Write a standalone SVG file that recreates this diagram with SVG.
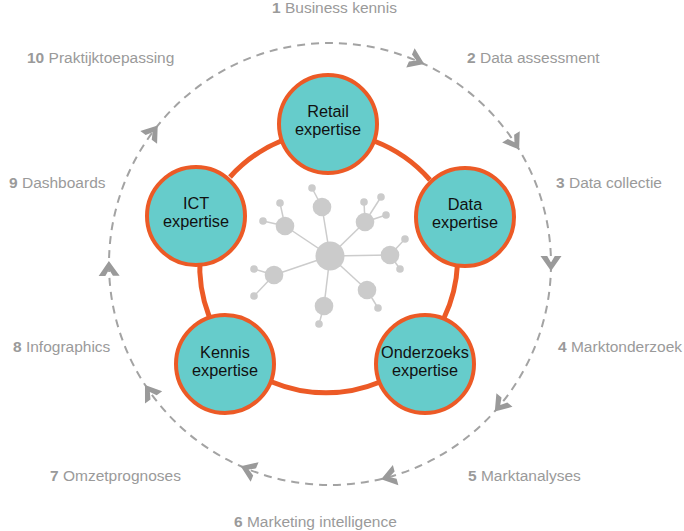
<svg xmlns="http://www.w3.org/2000/svg" width="684" height="531" viewBox="0 0 684 531">
<style>
.lbl{font-family:"Liberation Sans",Arial,sans-serif;font-size:15.5px;fill:#9a9a9a}
.num{font-weight:bold}
.nt{font-family:"Liberation Sans",Arial,sans-serif;font-size:16.3px;fill:#111;text-anchor:middle}
.node{fill:#66cccb;stroke:#ec5a26;stroke-width:4}
.link{fill:none;stroke:#ec5a26;stroke-width:5}
.cyc{fill:none;stroke:#a3a3a3;stroke-width:2;stroke-dasharray:8 6}
.chev{fill:#9a9a9a}
.net line{stroke:#cccccc;stroke-width:1.5}
.net circle{fill:#cbcbcb}
</style>
<defs>
<polygon id="chev" points="-8,-10.5 7,0 -8,10.5 -8,3.8 -1.5,0 -8,-3.8"/>
</defs>
<rect width="684" height="531" fill="#fff"/>
<g id="cycle">
<circle class="cyc" cx="330" cy="264" r="221"/>
<g class="chev">
<use href="#chev" transform="translate(417.8,61.1) rotate(23.4)"/>
<use href="#chev" transform="translate(515.3,143.6) rotate(57)"/>
<use href="#chev" transform="translate(551,264) rotate(90)"/>
<use href="#chev" transform="translate(499.3,406.1) rotate(130)"/>
<use href="#chev" transform="translate(387.9,477.3) rotate(164.8)"/>
<use href="#chev" transform="translate(247.2,468.9) rotate(202)"/>
<use href="#chev" transform="translate(149,390.8) rotate(235)"/>
<use href="#chev" transform="translate(109,267.9) rotate(269)"/>
<use href="#chev" transform="translate(153.5,131) rotate(-53)"/>
</g>
</g>
<g id="labels" class="lbl">
<text x="272" y="13"><tspan class="num">1</tspan> Business kennis</text>
<text x="467" y="63"><tspan class="num">2</tspan> Data assessment</text>
<text x="556" y="188"><tspan class="num">3</tspan> Data collectie</text>
<text x="558" y="352"><tspan class="num">4</tspan> Marktonderzoek</text>
<text x="468" y="481"><tspan class="num">5</tspan> Marktanalyses</text>
<text x="234" y="527"><tspan class="num">6</tspan> Marketing intelligence</text>
<text x="50" y="481"><tspan class="num">7</tspan> Omzetprognoses</text>
<text x="13" y="352"><tspan class="num">8</tspan> Infographics</text>
<text x="9" y="188"><tspan class="num">9</tspan> Dashboards</text>
<text x="27" y="63"><tspan class="num">10</tspan> Praktijktoepassing</text>
</g>
<g id="network" class="net">
<line x1="330" y1="256" x2="322" y2="207"/><line x1="322" y1="207" x2="312" y2="188"/>
<line x1="330" y1="256" x2="285" y2="226"/><line x1="285" y1="226" x2="280" y2="203"/><line x1="285" y1="226" x2="263" y2="221"/>
<line x1="330" y1="256" x2="365" y2="222"/><line x1="365" y1="222" x2="364" y2="202"/><line x1="365" y1="222" x2="381" y2="197"/><line x1="365" y1="222" x2="386" y2="215"/>
<line x1="330" y1="256" x2="390" y2="255"/><line x1="390" y1="255" x2="405" y2="239"/><line x1="390" y1="255" x2="400" y2="269"/>
<line x1="330" y1="256" x2="274" y2="275"/><line x1="274" y1="275" x2="254" y2="269"/><line x1="274" y1="275" x2="254" y2="296"/>
<line x1="330" y1="256" x2="367" y2="290"/><line x1="367" y1="290" x2="378" y2="308"/>
<line x1="330" y1="256" x2="324" y2="306"/><line x1="324" y1="306" x2="319" y2="324"/>
<circle cx="330" cy="256" r="14.5"/>
<circle cx="322" cy="207" r="9.3"/><circle cx="312" cy="188" r="3.8"/>
<circle cx="285" cy="226" r="9.3"/><circle cx="280" cy="203" r="3.8"/><circle cx="263" cy="221" r="3.8"/>
<circle cx="365" cy="222" r="9.3"/><circle cx="364" cy="202" r="3.8"/><circle cx="381" cy="197" r="3.8"/><circle cx="386" cy="215" r="3.8"/>
<circle cx="390" cy="255" r="9.3"/><circle cx="405" cy="239" r="3.8"/><circle cx="400" cy="269" r="3.8"/>
<circle cx="274" cy="275" r="9.3"/><circle cx="254" cy="269" r="3.8"/><circle cx="254" cy="296" r="3.8"/>
<circle cx="367" cy="290" r="9.3"/><circle cx="378" cy="308" r="3.8"/>
<circle cx="324" cy="306" r="9.3"/><circle cx="319" cy="324" r="3.8"/>
</g>
<g id="connectors">
<path class="link" d="M230,177 A140,140 0 0 1 281,141"/>
<path class="link" d="M374,141 A140,140 0 0 1 430,180"/>
<path class="link" d="M457.5,264 A140,140 0 0 1 444,318"/>
<path class="link" d="M380,382 A140,140 0 0 1 272,382"/>
<path class="link" d="M209,316 A140,140 0 0 1 200,257"/>
</g>
<g id="retail"><circle class="node" cx="328" cy="124" r="49"/><text class="nt" x="328" y="117">Retail</text><text class="nt" x="328" y="135">expertise</text></g>
<g id="data"><circle class="node" cx="465" cy="217" r="49"/><text class="nt" x="465" y="210">Data</text><text class="nt" x="465" y="228">expertise</text></g>
<g id="onderzoeks"><circle class="node" cx="425" cy="364" r="49"/><text class="nt" x="425" y="358">Onderzoeks</text><text class="nt" x="425" y="376">expertise</text></g>
<g id="kennis"><circle class="node" cx="225" cy="364" r="49"/><text class="nt" x="225" y="358">Kennis</text><text class="nt" x="225" y="376">expertise</text></g>
<g id="ict"><circle class="node" cx="196" cy="216" r="49"/><text class="nt" x="196" y="209">ICT</text><text class="nt" x="196" y="227">expertise</text></g>
</svg>
